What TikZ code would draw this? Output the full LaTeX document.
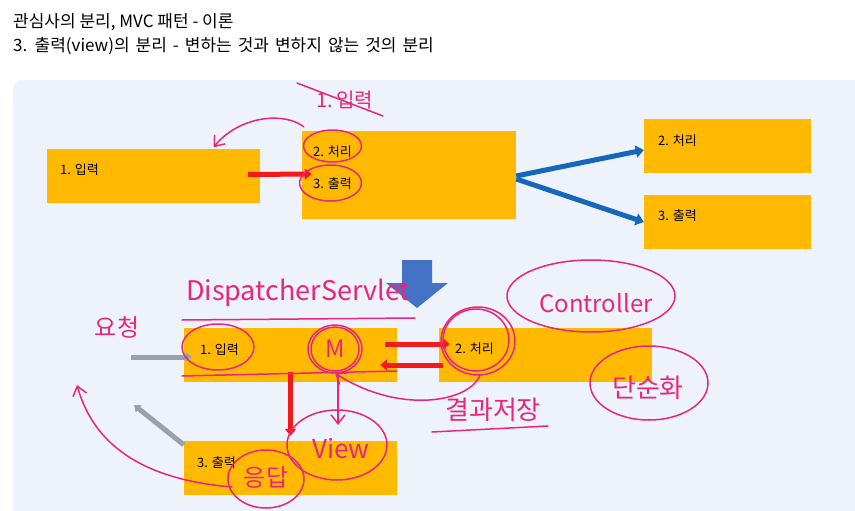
\documentclass[tikz,border=0pt]{standalone}
\usepackage{fontspec}
\setmainfont{Noto Sans CJK KR}
\usetikzlibrary{arrows.meta,calc}

\definecolor{panelbg}{HTML}{EEF2FB}
\definecolor{boxorange}{HTML}{FFB900}
\definecolor{arrowblue}{HTML}{1467BC}
\definecolor{blockblue}{HTML}{4472C4}
\definecolor{arrowgray}{HTML}{9AA0AC}
\definecolor{arrowred}{HTML}{F21A1A}
\definecolor{penpink}{HTML}{E8267C}

\tikzset{
  box/.style={fill=boxorange, inner sep=0pt, minimum width=213pt, minimum height=54pt},
  lbl/.style={anchor=west, inner sep=0pt, font=\fontsize{13}{15}\selectfont},
  title/.style={anchor=base west, inner sep=0pt, font=\fontsize{17}{20}\selectfont},
  redarrow/.style={draw=arrowred, line width=5pt, -{Triangle[length=7pt,width=11pt]}},
  bluearrow/.style={draw=arrowblue, line width=5pt, -{Triangle[length=8pt,width=12pt]}},
  grayarrow/.style={draw=arrowgray, line width=5pt, -{Triangle[length=6pt,width=9pt]}},
  pen/.style={draw=penpink, line width=1.5pt, line cap=round, line join=round},
  penarrow/.style={pen, -{Straight Barb[length=9pt,width=14pt]}},
  hw/.style={text=penpink, inner sep=0pt}
}

\begin{document}
\begin{tikzpicture}[x=1pt,y=-1pt]
  \useasboundingbox (0,0) rectangle (855,511);
  \fill[white] (0,0) rectangle (855,511);
  \fill[panelbg, rounded corners=10pt] (13,80) rectangle (875,530);

  % title
  \node[title] (t1) at (13,28) {관심사의 분리, MVC 패턴 - 이론};
  \node[title] (t2) at (13,52) {\spaceskip=6pt\relax 3. 출력(view)의 분리 - 변하는 것과 변하지 않는 것의 분리};

  % upper part
  \node[box] (a1) at (153.5,175.5) {};
  \node[box, minimum width=214pt, minimum height=88pt] (b) at (409,175) {};
  \node[box, minimum width=167pt] (c) at (727.5,146) {};
  \node[box, minimum width=167pt] (d) at (727.5,222) {};

  \node[lbl] (a1t) at (60,170) {1. 입력};
  \node[lbl] (b2t) at (313,152) {2. 처리};
  \node[lbl] (b3t) at (313,184) {3. 출력};
  \node[lbl] (ct) at (658,141) {2. 처리};
  \node[lbl] (dt) at (658,216) {3. 출력};

  \draw[redarrow] ($(a1.east)+(-12,-1)$) -- ($(b.west)+(10,-1)$);
  \draw[bluearrow] ($(b.east)+(0,1)$) -- ($(c.west)+(0,4)$);
  \draw[bluearrow] ($(b.east)+(0,4)$) -- (d.west);

  % big down arrow
  \fill[blockblue] (402,260) -- (432,260) -- (432,283) -- (448,283) -- (417,308)
    -- (386,283) -- (402,283) -- cycle;

  % lower part
  \node[box] (e) at (290.5,355) {};
  \node[box] (f) at (545.5,355) {};
  \node[box] (g) at (290.5,468) {};

  \node[lbl] (et) at (200,350) {1. 입력};
  \node[lbl] (ft) at (455,349) {2. 처리};
  \node[lbl] (gt) at (197,463) {3. 출력};

  \coordinate (req) at (131,357);
  \coordinate (resp) at (134,405);
  \draw[grayarrow] (req) -- ($(e.west)+(8,2)$);
  \draw[grayarrow] ($(g.north west)+(0,4)$) -- (resp);

  \draw[redarrow] ($(e.east)+(-12,-11)$) -- ($(f.west)+(11,-11)$);
  \draw[redarrow] ($(f.west)+(4,10)$) -- ($(e.east)+(-17,10)$);
  \draw[redarrow] ($(e.south)+(0,-10)$) -- ($(g.north)+(0,-5)$);

  % pen notes, upper part
  \node[hw, font=\fontsize{20}{20}\selectfont] (old) at (345,100) {1.\,입력};
  \draw[pen] (297,83) -- (383,116);
  \draw[penarrow] ($(b.north west)+(2,-4)$) .. controls (285,112) and (240,115) .. ($(a1.north)+(60,-1)$);
  \draw[pen] ($(b2t.center)+(0,-6)$) ellipse [x radius=29pt, y radius=16pt];
  \draw[pen] ($(b3t.center)+(-2,-1)$) ellipse [x radius=31pt, y radius=18pt];

  % pen notes, lower part
  \node[hw, font=\fontsize{27}{27}\selectfont] (ds) at (298,293) {DispatcherServlet};
  \draw[pen] (182,320) -- (415,318);
  \node[hw, font=\fontsize{24}{24}\selectfont] (ask) at (117,327) {요청};
  \draw[pen] (218,347) ellipse [x radius=36pt, y radius=23pt];
  \draw[pen] (182,376) -- (397,371);

  \node[hw, font=\fontsize{24}{24}\selectfont, minimum size=48pt, circle] (m) at (335,349) {M};
  \draw[pen] (m.center) ellipse [x radius=27pt, y radius=24pt];
  \draw[pen] (m.center) ellipse [x radius=24pt, y radius=22pt];

  \draw[pen] (478,341) ellipse [x radius=37pt, y radius=34pt];
  \draw[pen] (476,340) ellipse [x radius=33pt, y radius=31pt];

  \node[hw, font=\fontsize{24}{24}\selectfont] (ctrl) at (596,303) {Controller};
  \draw[pen] (591,296) ellipse [x radius=84pt, y radius=36pt];
  \node[hw, font=\fontsize{26}{26}\selectfont] (simple) at (648,388) {단순화};
  \draw[pen] (649,383) ellipse [x radius=59pt, y radius=37pt];
  \node[hw, font=\fontsize{26}{26}\selectfont] (store) at (493,410) {결과저장};
  \draw[pen] (432,432) -- (548,426);
  \draw[penarrow] (480,375) .. controls (470,402) and (400,415) .. (m.south);

  \node[hw, font=\fontsize{26}{26}\selectfont] (view) at (341,449) {View};
  \draw[pen] (337,445) ellipse [x radius=50pt, y radius=35pt];
  \draw[penarrow] (m.south) ++(3,0) -- (338,425);

  \node[hw, font=\fontsize{24}{24}\selectfont] (answer) at (266,478) {응답};
  \draw[pen] (266,479) ellipse [x radius=38pt, y radius=29pt];
  \draw[penarrow] (232,487) .. controls (150,480) and (95,450) .. (77,385);
\end{tikzpicture}
\end{document}
